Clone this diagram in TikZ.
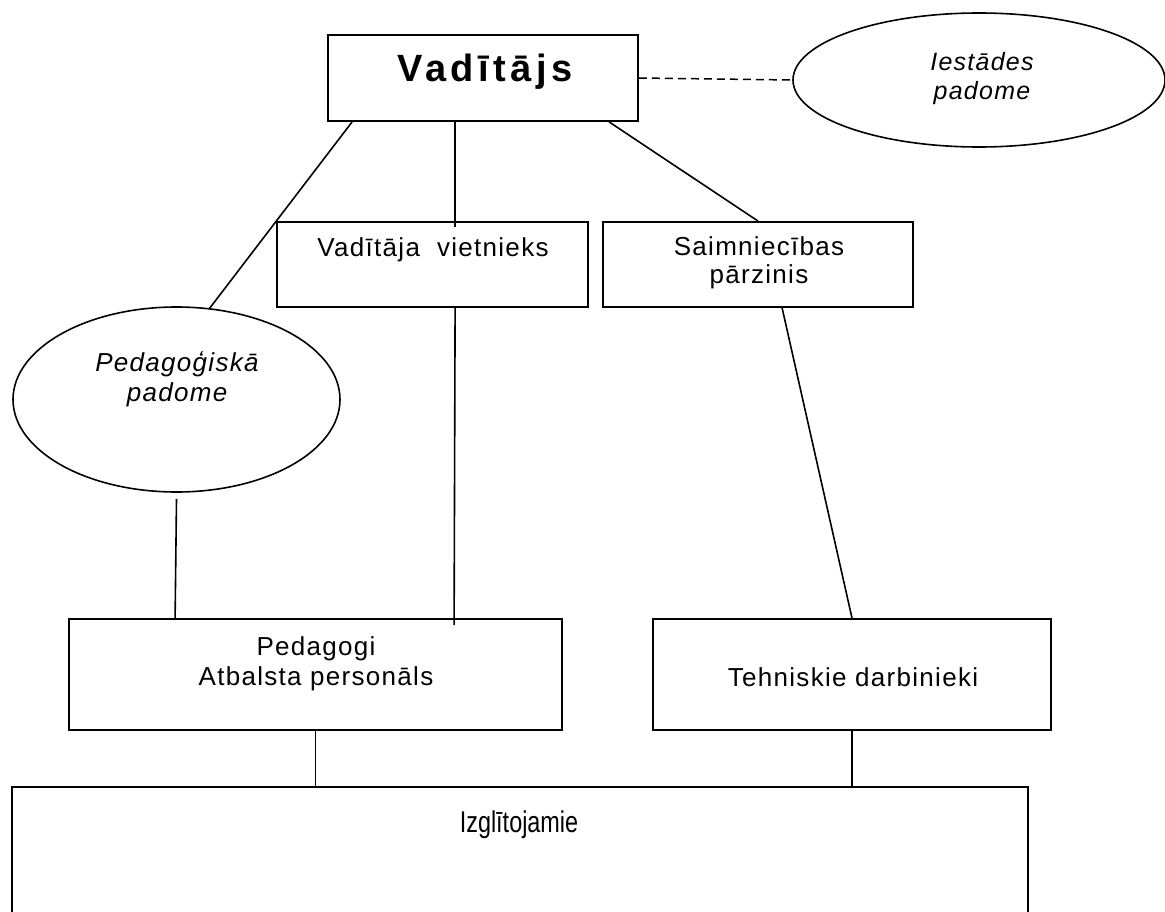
\documentclass[tikz,border=0pt]{standalone}
\usepackage{fontspec}
\setmainfont{Liberation Sans}
\newfontfamily\labfont[LetterSpace=5]{Liberation Sans}
\newfontfamily\titlefont[LetterSpace=12]{Liberation Sans}
\newfontfamily\condfont[FakeStretch=0.78]{Liberation Sans}
\usetikzlibrary{shapes.geometric,calc}
\begin{document}
\begin{tikzpicture}[x=1pt,y=-1pt,
  box/.style={draw,line width=1.8pt,rectangle,inner sep=0pt},
  oval/.style={draw,line width=1.6pt,ellipse,inner sep=0pt},
  lab/.style={inner sep=0pt,align=center,font=\labfont\fontsize{26}{30}\selectfont},
  conn/.style={line width=1.6pt},
  dashconn/.style={line width=1.5pt,dash pattern=on 8pt off 5pt}]
\useasboundingbox (0,0) rectangle (1165,912);
% shapes
\node[box,minimum width=310pt,minimum height=86pt] (vad) at (483,78) {};
\node[oval,minimum width=372pt,minimum height=134pt] (ies) at (979,80) {};
\node[box,minimum width=311pt,minimum height=85pt] (vie) at (432.5,264.5) {};
\node[box,minimum width=310pt,minimum height=85pt] (sai) at (758,264.5) {};
\node[oval,minimum width=327pt,minimum height=185pt] (ped) at (176.5,399.5) {};
\node[box,minimum width=493pt,minimum height=111pt] (pedag) at (315.5,674.5) {};
\node[box,minimum width=398pt,minimum height=111pt] (teh) at (852,674.5) {};
\node[box,minimum width=1016pt,minimum height=180pt] (izg) at (520,877) {};
% texts
\node[inner sep=0pt,anchor=base,font=\titlefont\bfseries\fontsize{38}{44}\selectfont] (tvad) at (485,82) {Vadītājs};
\node[lab,font=\labfont\itshape\fontsize{25}{29}\selectfont] (ties) at (982,79) {Iestādes\\padome};
\node[lab,anchor=base] (tvie) at (433,257) {Vadītāja\ \ vietnieks};
\node[lab,font=\labfont\fontsize{26}{28.5}\selectfont] (tsai) at (759,263) {Saimniecības\\pārzinis};
\node[lab,font=\labfont\itshape\fontsize{26}{30}\selectfont] (tped) at (177,379) {Pedagoģiskā\\padome};
\node[lab] (tpedag) at (316,664) {Pedagogi\\Atbalsta personāls};
\node[lab,anchor=base] (tteh) at (853,686) {Tehniskie darbinieki};
\node[inner sep=0pt,anchor=base,font=\condfont\fontsize{30}{34}\selectfont] (tizg) at (519,832) {Izglītojamie};
% connectors
\draw[dashconn] (vad.east) -- (ies.west);
\draw[conn] ($(vad.south west)+(25,0)$) -- (ped.70);
\draw[conn] ($(vad.south west)+(128,0)$) -- ($(vie.north west)+(179,6)$);
\draw[conn] ($(vad.south west)+(282,0)$) -- (sai.north);
\draw[conn] ($(vie.south west)+(179,0)$) -- ($(pedag.north west)+(386,7)$);
\draw[conn] ($(ped.south)+(0,6)$) -- ($(pedag.north west)+(107,0)$);
\draw[conn] ($(sai.south west)+(180,0)$) -- (teh.north);
\draw[conn] (pedag.south) -- (pedag.south |- izg.north);
\draw[conn] (teh.south) -- (teh.south |- izg.north);
\end{tikzpicture}
\end{document}
